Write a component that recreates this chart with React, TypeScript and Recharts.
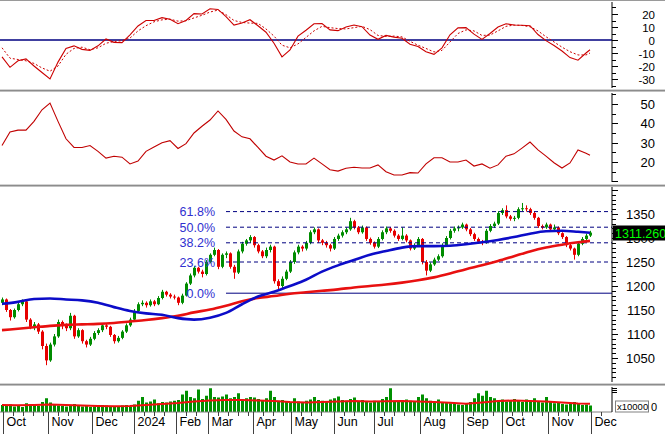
import React from 'react';
import { ComposedChart, Bar, Line, XAxis, YAxis, ReferenceLine } from 'recharts';

// ---- price candles: [open, high, low, close], one per 2 trading days ----
const candles: number[][] = [
  [1165,1176,1160,1172],[1172,1174,1146,1150],[1150,1152,1128,1135],[1135,1153,1132,1150],[1150,1166,1147,1162],
  [1162,1172,1158,1168],[1168,1170,1125,1130],[1130,1133,1110,1115],[1115,1125,1108,1120],[1120,1123,1100,1105],
  [1105,1108,1068,1075],[1075,1080,1035,1045],[1045,1082,1042,1078],[1078,1100,1074,1095],[1095,1130,1092,1125],
  [1125,1128,1110,1118],[1118,1122,1106,1112],[1112,1144,1108,1138],[1138,1140,1090,1095],[1095,1112,1092,1108],
  [1108,1110,1080,1085],[1085,1088,1072,1078],[1078,1094,1075,1090],[1090,1106,1087,1102],[1102,1112,1098,1108],
  [1108,1122,1104,1118],[1118,1121,1110,1115],[1115,1117,1094,1098],[1098,1100,1080,1085],[1085,1096,1082,1092],
  [1092,1108,1089,1105],[1105,1122,1102,1118],[1118,1134,1115,1130],[1130,1152,1127,1148],[1148,1166,1145,1162],
  [1162,1170,1158,1165],[1165,1168,1155,1160],[1160,1172,1157,1168],[1168,1171,1158,1162],[1162,1179,1160,1175],
  [1175,1192,1172,1188],[1188,1190,1178,1182],[1182,1185,1174,1178],[1178,1182,1172,1176],[1176,1178,1160,1165],
  [1165,1184,1162,1180],[1180,1208,1178,1205],[1205,1226,1202,1222],[1222,1242,1218,1238],[1238,1240,1226,1230],
  [1230,1234,1218,1225],[1225,1254,1222,1250],[1250,1268,1247,1265],[1265,1280,1262,1275],[1275,1277,1235,1240],
  [1240,1268,1237,1265],[1265,1272,1258,1268],[1268,1270,1236,1240],[1240,1244,1215,1228],[1228,1276,1225,1272],
  [1272,1292,1268,1288],[1288,1298,1284,1295],[1295,1306,1290,1302],[1302,1304,1280,1285],[1285,1288,1268,1272],
  [1272,1275,1258,1262],[1262,1280,1258,1275],[1275,1286,1270,1282],[1282,1284,1205,1210],[1210,1214,1192,1200],
  [1200,1220,1196,1215],[1215,1234,1212,1230],[1230,1254,1227,1250],[1250,1274,1246,1270],[1270,1286,1266,1282],
  [1282,1285,1272,1278],[1278,1294,1274,1290],[1290,1316,1287,1312],[1312,1322,1308,1318],[1318,1320,1290,1295],
  [1295,1298,1285,1290],[1290,1294,1280,1285],[1285,1288,1272,1278],[1278,1302,1275,1298],[1298,1309,1294,1305],
  [1305,1316,1301,1312],[1312,1322,1308,1318],[1318,1342,1315,1335],[1335,1338,1318,1322],[1322,1325,1308,1312],
  [1312,1326,1309,1322],[1322,1324,1294,1298],[1298,1301,1286,1290],[1290,1293,1278,1282],[1282,1302,1279,1298],
  [1298,1316,1295,1312],[1312,1324,1308,1320],[1320,1323,1311,1315],[1315,1318,1301,1305],[1305,1308,1294,1298],
  [1298,1322,1295,1305],[1305,1308,1291,1295],[1295,1297,1274,1278],[1278,1289,1275,1285],[1285,1302,1282,1298],
  [1298,1300,1245,1250],[1250,1254,1222,1232],[1232,1249,1229,1245],[1245,1259,1242,1255],[1255,1266,1252,1262],
  [1262,1289,1259,1285],[1285,1304,1282,1300],[1300,1319,1297,1315],[1315,1324,1311,1320],[1320,1326,1314,1322],
  [1322,1332,1319,1328],[1328,1330,1314,1318],[1318,1321,1304,1308],[1308,1311,1294,1298],[1298,1301,1288,1292],
  [1292,1296,1285,1290],[1290,1319,1288,1315],[1315,1329,1312,1325],[1325,1334,1321,1330],[1330,1356,1327,1352],
  [1352,1362,1348,1358],[1358,1368,1341,1345],[1345,1348,1336,1340],[1340,1346,1335,1342],[1342,1364,1339,1360],
  [1360,1373,1356,1362],[1362,1368,1355,1360],[1360,1363,1348,1352],[1352,1355,1338,1342],[1342,1344,1321,1325],
  [1325,1328,1318,1322],[1322,1332,1319,1328],[1328,1330,1314,1318],[1318,1328,1315,1322],[1322,1324,1306,1310],
  [1310,1312,1298,1302],[1302,1304,1281,1285],[1285,1288,1274,1278],[1278,1280,1255,1265],[1265,1292,1262,1288],
  [1288,1302,1285,1298],[1298,1309,1295,1305],[1305,1315,1302,1311.26],
];

// moving averages, one value every 4 candles (last one at the final candle)
const ma50 = [1163,1167,1173,1174,1172,1170,1165,1156,1148,1143,1140,1133,1130,1134,1144,1162,1178,1188,1200,1213,
  1230,1243,1254,1265,1273,1280,1283,1283,1284,1287,1291,1296,1302,1309,1314,1315,1313,1311];
const ma200 = [1108,1111,1114,1117,1119,1120,1121,1123,1126,1129,1133,1138,1145,1151,1159,1168,1175,1179,1184,1187,
  1190,1193,1197,1200,1203,1207,1212,1218,1226,1235,1243,1252,1262,1272,1280,1286,1291,1294];

// oscillators, one value every 2 candles (last one at the final candle)
const macd = [-13,-21,-16,-14.5,-20,-25,-30,-17,-6.5,-4.5,
  -7.2,-8,-4.5,0.8,-1.8,-2,4,10.8,15,15,
  17.2,16,12.5,15,20.3,20,24,23.5,18,11.5,
  13,15.6,11,6,-2.5,-13,-7.7,3,7.5,12.5,
  12.6,7.8,7.2,10,11.5,10.2,3.8,0.5,3.5,2.2,
  1.3,-3.2,-5,-9,-11,-6,4,9.3,9.5,4.5,
  0.5,5,10,12.5,11.5,11.3,11,4.2,-0.5,-4.2,
  -8.5,-13.5,-15.5,-10,-7.5];
const macdSignal = [-6,-14,-15,-16,-18,-21.5,-24,-20,-11,-6.5,
  -5.5,-7.5,-6,-2.5,-1.2,-0.5,1.5,7,11,14,
  15.5,16,14.5,14.8,17,19,21.5,23,19.5,15,
  13.5,13,12.8,8.5,3,-4,-6,-3,2,7,
  10.5,9.5,8.8,8.5,9.5,10.5,8,3.5,2.8,3,
  2.4,-1,-4,-6.5,-9.2,-8,-1.5,5,7.8,7,
  3.5,3.8,7,10.5,11.5,11.2,10.2,7,2.5,-1.5,
  -5.5,-9,-11.5,-11.5,-10];
const adx = [28.5,35.5,36.5,36.5,41,47,50.5,41,32,27.5,
  27.5,28.5,25.5,22,23,22.5,19,20.5,25.5,27.8,
  30,31,27,29.5,35,38.5,41.7,46.4,42,36,
  33,32,27.5,23,21,23.2,20,19,19,22,
  19,16,15.3,16.8,17.3,16.9,16.9,18.5,15,13.3,
  13.3,14.5,14.3,19,22.2,22.2,20,20,21,17.9,
  19,16.8,18.5,23,24.2,27.2,30.3,26.3,23,19.6,
  16.9,19.5,26.2,24.5,23.5];

// volume (x10000 units, relative), one per candle; MA every 4 candles
const volume = [
  28,24,30,22,26,20,35,30,28,25,40,
  55,38,30,26,24,22,28,32,26,22,24,
  20,22,24,28,26,22,20,24,26,28,22,
  30,45,60,38,42,50,35,40,38,42,45,
  48,70,85,60,55,90,52,65,95,60,58,
  62,70,55,60,75,50,55,60,58,52,48,
  55,85,60,45,48,40,38,55,42,40,45,
  50,60,48,45,42,50,55,62,48,45,52,
  58,42,48,40,38,45,40,52,60,95,45,
  42,48,50,45,40,60,70,55,45,42,50,
  38,40,35,32,30,28,35,40,55,75,65,
  85,60,55,45,50,42,48,52,45,40,50,
  45,55,42,38,60,40,35,38,32,30,35,
  40,32,28,30,26];
const volumeMa = [28,27,28,30,28,26,24,23,24,28,32,36,42,46,48,48,46,44,40,38,
  40,42,44,42,43,44,42,40,37,33,38,44,46,44,42,38,34,33];

// Fibonacci retracement
const fibLabels = ['61.8%', '50.0%', '38.2%', '23.6%', '0.0%'];
const fibValues = [1355, 1322.5, 1290, 1250, 1185];
const fibStartIndex = 56;

// time axis
const monthLabels = ['Oct','Nov','Dec','2024','Feb','Mar','Apr','May','Jun','Jul','Aug','Sep','Oct','Nov','Dec'];
const monthStarts = [0.35, 11.4, 22.4, 33, 43.6, 51.5, 62.75, 72.25, 83, 93, 104.5, 115.25, 125, 136.5, 147.25];
const lastPrice = 1311.26;

// ---------------------------------------------------------------------
const W = 665;
const AXW = 53;
const X_MIN = -0.5;
const X_MAX = 152.5;
const N = candles.length;
const FONT = '"Liberation Sans", Arial, sans-serif';
const GREEN = '#008c00';
const RED = '#e60000';

type Row = { [k: string]: any };
const rows: Row[] = candles.map(([o, h, l, c], i) => ({ i, o, h, l, c, hl: [l, h], vol: volume[i] }));
ma50.forEach((v, k) => { rows[Math.min(k * 4, N - 1)].ma50 = v; });
ma200.forEach((v, k) => { rows[Math.min(k * 4, N - 1)].ma200 = v; });
volumeMa.forEach((v, k) => { rows[Math.min(k * 4, N - 1)].volMa = v; });
macd.forEach((v, k) => { rows[Math.min(k * 2, N - 1)].macd = v; });
macdSignal.forEach((v, k) => { rows[Math.min(k * 2, N - 1)].sig = v; });
adx.forEach((v, k) => { rows[Math.min(k * 2, N - 1)].adx = v; });

const range = (a: number, b: number, s: number) => { const r: number[] = []; for (let v = a; v <= b + 1e-9; v += s) r.push(+v.toFixed(4)); return r; };

const Candle = (p: any) => {
  const { x, y, width, height, payload } = p;
  if (x == null || y == null) return <g />;
  const top = Math.min(y, y + height);
  const hh = Math.abs(height);
  const { o, h, l, c } = payload;
  const yOf = (v: number) => top + ((h - v) / (h - l || 1)) * hh;
  const cx = Math.round(x + width / 2);
  const color = c >= o ? GREEN : RED;
  const b1 = yOf(Math.max(o, c));
  const b2 = yOf(Math.min(o, c));
  return (
    <g>
      <line x1={cx + 0.5} x2={cx + 0.5} y1={top} y2={top + hh} stroke={color} strokeWidth={1} />
      <rect x={cx - 1} y={b1} width={3} height={Math.max(1, b2 - b1)} fill={color} />
    </g>
  );
};

const VolBar = (p: any) => {
  const { x, y, width, height } = p;
  if (x == null) return <g />;
  const cx = Math.round(x + width / 2);
  return <rect x={cx - 1} y={y} width={3} height={Math.max(0, height)} fill="#009000" />;
};

const makeYTick = (labels: number[], majorStep: number, fontSize: number, tag?: number) => (p: any) => {
  const v = p.payload.value;
  const x = p.x;
  const y = Math.round(p.y) + 0.5;
  if (tag !== undefined && v === tag) {
    return (
      <g>
        <rect x={x + 1} y={y - 8} width={AXW} height={15} fill="#000" />
        <text x={x + 3} y={y + 4} fill="#00ff00" fontSize={12.5} fontFamily={FONT}>{v.toFixed(3)}</text>
      </g>
    );
  }
  const major = Math.abs(v / majorStep - Math.round(v / majorStep)) < 1e-6;
  return (
    <g>
      <line x1={x} x2={x + (major ? 6 : 4)} y1={y} y2={y} stroke="#000" />
      {labels.includes(v) && (
        <text x={x + 43} y={y + 4} textAnchor="end" fontSize={fontSize} fontFamily={FONT} fill="#000">{v}</text>
      )}
    </g>
  );
};

const VolTick = (p: any) => {
  const v = p.payload.value;
  const x = p.x;
  const y = Math.round(p.y) + 0.5;
  if (v === 24) {
    return (
      <g>
        <text x={x + 39} y={y + 4} fontSize={11} fontFamily={FONT} fill="#000">0</text>
        <rect x={x + 3.5} y={y - 5.5} width={33} height={11} fill="#fff" stroke="#808080" />
        <text x={x + 5} y={y + 3.5} fontSize={9.5} fontFamily={FONT} fill="#000">x10000</text>
      </g>
    );
  }
  return <line x1={x} x2={x + 5} y1={y} y2={y} stroke="#000" />;
};

const minorTimeTicks: number[] = [];
monthStarts.forEach((m, k) => {
  const next = k + 1 < monthStarts.length ? monthStarts[k + 1] : X_MAX;
  for (let t = m + 2.5; t < next - 1; t += 2.5) minorTimeTicks.push(+t.toFixed(3));
});
const timeTicks = [...monthStarts, ...minorTimeTicks];

const XTick = (p: any) => {
  const v = p.payload.value;
  const x = Math.round(p.x) + 0.5;
  const y = p.y;
  const mi = monthStarts.indexOf(v);
  if (mi >= 0) {
    return (
      <g>
        <line x1={x} x2={x} y1={y} y2={y + 22} stroke="#404040" />
        <text x={x + 3} y={y + 14} fontSize={12.5} fontFamily={FONT} fill="#000">{monthLabels[mi]}</text>
      </g>
    );
  }
  return <line x1={x} x2={x} y1={y} y2={y + 4} stroke="#404040" />;
};

const FibLabel = (p: any) => {
  const vb = p.viewBox || {};
  return (
    <text x={(vb.x ?? 0) - 11} y={(vb.y ?? 0) + 4.5} textAnchor="end" fontSize={12.5} fontFamily={FONT} fill="#3030d0">{p.text}</text>
  );
};

const margin = { top: 0, right: 0, bottom: 0, left: 0 };
const hiddenX = (
  <XAxis type="number" dataKey="i" domain={[X_MIN, X_MAX]} hide allowDataOverflow />
);

const Sep = ({ top }: { top: number }) => (
  <>
    <div style={{ position: 'absolute', left: 0, top, width: W, height: 1, background: '#d4d4d4' }} />
    <div style={{ position: 'absolute', left: 0, top: top + 1, width: W, height: 1, background: '#8c8c8c' }} />
    <div style={{ position: 'absolute', left: 0, top: top + 2, width: W, height: 1, background: '#c0c0c0' }} />
  </>
);

export default function App() {
  return (
    <div style={{ position: 'absolute', left: 0, top: 0, width: W, height: 434, background: '#fff', overflow: 'hidden' }}>
      <div style={{ position: 'absolute', left: 0, top: 0, width: W, height: 1, background: '#9a9a9a' }} />
      {/* Panel 1: MACD */}
      <div style={{ position: 'absolute', left: 0, top: 2 }}>
        <ComposedChart width={W} height={86} data={rows} margin={margin}>
          {hiddenX}
          <YAxis orientation="right" width={AXW} domain={[-36.92, 29.23]} allowDataOverflow
            ticks={range(-35, 25, 5)} interval={0} tickLine={false} tickSize={0} tickMargin={0}
            tick={makeYTick([-30, -20, -10, 0, 10, 20], 10, 11.5)} axisLine={{ stroke: '#000' }} />
          <ReferenceLine y={0} stroke="#000080" strokeWidth={1.3} />
          <Line dataKey="sig" stroke="#cc0000" strokeWidth={1} strokeDasharray="2 2" dot={false} activeDot={false} connectNulls isAnimationActive={false} />
          <Line dataKey="macd" stroke="#cc0000" strokeWidth={1.1} dot={false} activeDot={false} connectNulls isAnimationActive={false} />
        </ComposedChart>
      </div>
      <Sep top={89} />
      {/* Panel 2: ADX */}
      <div style={{ position: 'absolute', left: 0, top: 93 }}>
        <ComposedChart width={W} height={89} data={rows} margin={margin}>
          {hiddenX}
          <YAxis orientation="right" width={AXW} domain={[9.65, 55.69]} allowDataOverflow
            ticks={range(10, 55, 5)} interval={0} tickLine={false} tickSize={0} tickMargin={0}
            tick={makeYTick([20, 30, 40, 50], 10, 13)} axisLine={{ stroke: '#000' }} />
          <Line dataKey="adx" stroke="#c00000" strokeWidth={1.1} dot={false} activeDot={false} connectNulls isAnimationActive={false} />
        </ComposedChart>
      </div>
      <Sep top={184} />
      {/* Panel 3: price */}
      <div style={{ position: 'absolute', left: 0, top: 187 }}>
        <ComposedChart width={W} height={195} data={rows} margin={margin} barCategoryGap={0}>
          {hiddenX}
          <YAxis orientation="right" width={AXW} domain={[1000, 1406.25]} allowDataOverflow
            ticks={[...range(1010, 1400, 10), lastPrice]} interval={0} tickLine={false} tickSize={0} tickMargin={0}
            tick={makeYTick([1050, 1100, 1150, 1200, 1250, 1300, 1350], 50, 13, lastPrice)} axisLine={{ stroke: '#000' }} />
          {fibValues.map((v, k) => (
            <ReferenceLine key={k} segment={[{ x: fibStartIndex, y: v }, { x: X_MAX, y: v }]}
              stroke="#000080" strokeWidth={1} strokeDasharray={k === fibValues.length - 1 ? undefined : '4 3'}
              label={<FibLabel text={fibLabels[k]} />} />
          ))}
          <Bar dataKey="hl" shape={Candle} isAnimationActive={false} barSize={4} />
          <Line dataKey="ma200" type="monotone" stroke="#e81010" strokeWidth={2.6} dot={false} activeDot={false} connectNulls isAnimationActive={false} />
          <Line dataKey="ma50" type="monotone" stroke="#0c0cc8" strokeWidth={2.6} dot={false} activeDot={false} connectNulls isAnimationActive={false} />
        </ComposedChart>
      </div>
      <Sep top={383} />
      {/* Panel 4: volume + time axis */}
      <div style={{ position: 'absolute', left: 0, top: 387 }}>
        <ComposedChart width={W} height={47} data={rows} margin={margin} barCategoryGap={0}>
          <XAxis type="number" dataKey="i" domain={[X_MIN, X_MAX]} allowDataOverflow height={22}
            ticks={timeTicks} interval={0} tickLine={false} tickSize={0} tickMargin={0}
            tick={XTick} axisLine={{ stroke: '#808080' }} />
          <YAxis orientation="right" width={AXW} domain={[0, 100]} allowDataOverflow
            ticks={[96, 88, 80, 24]} interval={0} tickLine={false} tickSize={0} tickMargin={0}
            tick={VolTick} axisLine={{ stroke: '#000' }} />
          <Bar dataKey="vol" shape={VolBar} isAnimationActive={false} barSize={4} />
          <Line dataKey="volMa" stroke="#ee1010" strokeWidth={2} dot={false} activeDot={false} connectNulls isAnimationActive={false} />
        </ComposedChart>
      </div>
    </div>
  );
}
